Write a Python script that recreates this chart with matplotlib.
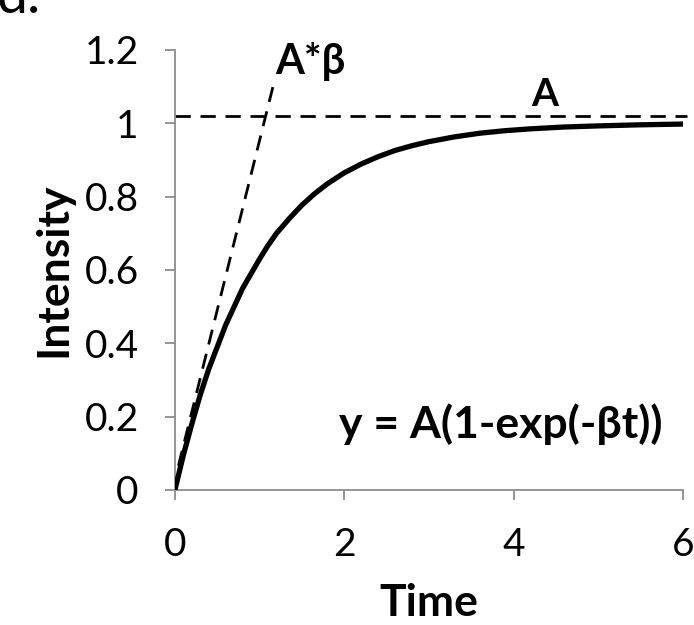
import matplotlib.pyplot as plt

# curve values
time = [0, 0.1, 0.2, 0.3, 0.4, 0.5, 0.6, 0.7, 0.8, 0.9, 1.0, 1.1, 1.2, 1.35,
        1.5, 1.65, 1.8, 2.0, 2.2, 2.4, 2.6, 2.8, 3.0, 3.3, 3.6, 3.9, 4.2,
        4.6, 5.0, 5.5, 6.0]
intensity = [0, 0.095, 0.18, 0.26, 0.33, 0.39, 0.45, 0.50, 0.55, 0.59, 0.63,
             0.667, 0.70, 0.74, 0.777, 0.808, 0.835, 0.865, 0.889, 0.909,
             0.926, 0.939, 0.950, 0.963, 0.973, 0.98, 0.985, 0.99, 0.993,
             0.996, 0.998]

tangent_x = [-0.03, 1.18]
tangent_y = [0.0, 1.12]
plateau_x = [0, 6.05]
plateau_y = [1.02, 1.02]

plt.rcParams['font.family'] = ['Lato', 'DejaVu Sans']

fig = plt.figure(figsize=(6.94, 6.25), dpi=100)
ax = fig.add_axes([0.252, 0.216, 0.732, 0.704])

ax.plot(time, intensity, color='black', linewidth=3.8, solid_capstyle='round',
        solid_joinstyle='round', zorder=3)
ax.plot(tangent_x, tangent_y, color='black', linestyle=(0, (5.5, 3.5)), linewidth=2.0)
ax.plot(plateau_x, plateau_y, color='black', linestyle=(0, (5.5, 3.5)), linewidth=2.0,
        clip_on=False)

ax.set_xlim(0, 6)
ax.set_ylim(0, 1.2)
ax.set_xticks([0, 2, 4, 6])
ax.set_xticklabels(['0', '2', '4', '6'])
ax.set_yticks([0, 0.2, 0.4, 0.6, 0.8, 1.0, 1.2])
ax.set_yticklabels(['0', '0.2', '0.4', '0.6', '0.8', '1', '1.2'])

for side in ['top', 'right']:
    ax.spines[side].set_visible(False)
for side in ['left', 'bottom']:
    ax.spines[side].set_color('#8c8c8c')
    ax.spines[side].set_linewidth(1.3)
ax.tick_params(axis='both', direction='out', length=7, width=1.3, color='#8c8c8c',
               labelsize=28)
ax.tick_params(axis='y', pad=19)
ax.tick_params(axis='x', pad=20)

ax.set_xlabel('Time', fontsize=32, fontweight='bold', labelpad=14)
ax.set_ylabel('Intensity', fontsize=32, fontweight='bold', labelpad=8)

ax.text(1.18, 1.115, 'A*β', fontsize=30, fontweight='bold', ha='left', va='bottom')
ax.text(4.37, 1.03, 'A', fontsize=28, fontweight='bold', ha='center', va='bottom')
ax.text(3.85, 0.18, 'y = A(1-exp(-βt))', fontsize=32, fontweight='bold',
        ha='center', va='center')

fig.text(-0.005, 1.045, 'd.', fontsize=40, ha='left', va='top')

fig.savefig('out.png', dpi=100)
